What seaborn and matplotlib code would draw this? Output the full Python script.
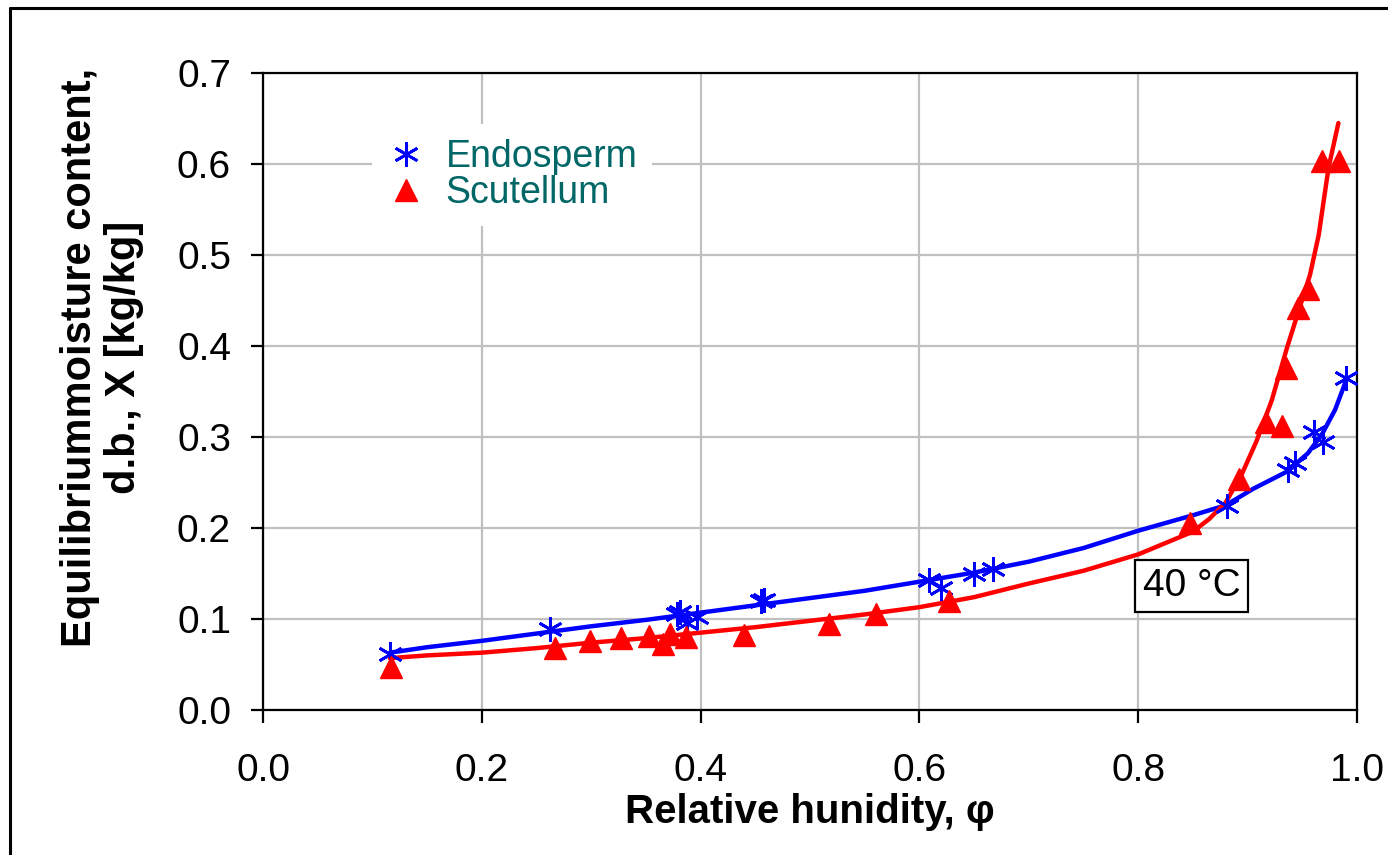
import matplotlib
matplotlib.use('Agg')
import matplotlib.pyplot as plt
from matplotlib.lines import Line2D
import seaborn as sns

sns.set_style('white')
plt.rcParams['font.family'] = ['Liberation Sans', 'DejaVu Sans']
plt.rcParams['text.color'] = 'black'
plt.rcParams['xtick.color'] = 'black'
plt.rcParams['ytick.color'] = 'black'
plt.rcParams['axes.labelcolor'] = 'black'

# measured points, endosperm
endo_rh = [0.116, 0.262, 0.378, 0.381, 0.388, 0.397, 0.455, 0.458, 0.609,
           0.620, 0.650, 0.667, 0.881, 0.937, 0.943, 0.961, 0.969, 0.990]
endo_x = [0.062, 0.089, 0.106, 0.108, 0.096, 0.102, 0.120, 0.121, 0.143,
          0.134, 0.150, 0.155, 0.224, 0.264, 0.271, 0.306, 0.295, 0.365]

# measured points, scutellum
scut_rh = [0.117, 0.267, 0.299, 0.327, 0.353, 0.366, 0.372, 0.387, 0.440,
           0.517, 0.560, 0.627, 0.847, 0.892, 0.917, 0.931, 0.935, 0.946,
           0.955, 0.968, 0.984]
scut_x = [0.047, 0.068, 0.076, 0.079, 0.081, 0.073, 0.084, 0.080, 0.082,
          0.095, 0.106, 0.120, 0.206, 0.254, 0.316, 0.312, 0.376, 0.442,
          0.463, 0.603, 0.603]

# fitted curves
endo_fit_rh = [0.116, 0.15, 0.2, 0.25, 0.3, 0.35, 0.4, 0.45, 0.5, 0.55, 0.6,
               0.65, 0.7, 0.75, 0.8, 0.85, 0.88, 0.905, 0.936, 0.955, 0.968,
               0.98, 0.99]
endo_fit_x = [0.063, 0.069, 0.076, 0.084, 0.092, 0.099, 0.107, 0.115, 0.123,
              0.131, 0.141, 0.151, 0.163, 0.178, 0.197, 0.214, 0.225, 0.243,
              0.262, 0.282, 0.303, 0.330, 0.362]
scut_fit_rh = [0.116, 0.15, 0.2, 0.25, 0.3, 0.35, 0.4, 0.45, 0.5, 0.55, 0.6,
               0.65, 0.7, 0.75, 0.8, 0.85, 0.865, 0.88, 0.895, 0.908, 0.922,
               0.936, 0.947, 0.957, 0.965, 0.974, 0.983]
scut_fit_x = [0.057, 0.060, 0.063, 0.068, 0.074, 0.079, 0.085, 0.091, 0.098,
              0.105, 0.113, 0.124, 0.139, 0.153, 0.171, 0.196, 0.210, 0.228,
              0.260, 0.295, 0.340, 0.398, 0.440, 0.478, 0.522, 0.596, 0.645]

xticks = [0.0, 0.2, 0.4, 0.6, 0.8, 1.0]
yticks = [0.0, 0.1, 0.2, 0.3, 0.4, 0.5, 0.6, 0.7]

fig = plt.figure(figsize=(13.88, 8.55), dpi=100)
ax = fig.add_axes([263/1388, 145/855, 1094/1388, 637/855])

sns.lineplot(x=endo_fit_rh, y=endo_fit_x, sort=False, estimator=None,
             color='blue', lw=3.2, ax=ax, zorder=3)
sns.lineplot(x=scut_fit_rh, y=scut_fit_x, sort=False, estimator=None,
             color='red', lw=3.2, ax=ax, zorder=3)
ax.plot(endo_rh, endo_x, ls='none', marker=(6, 2, 0), ms=18, mew=2.0,
        color='blue', zorder=4)
ax.plot(scut_rh, scut_x, ls='none', marker='^', ms=16, color='red',
        mec='red', zorder=4)

ax.set_xlim(0, 1.0)
ax.set_ylim(0, 0.7)
ax.set_xticks(xticks)
ax.set_yticks(yticks)
ax.set_xticklabels(['%.1f' % t for t in xticks])
ax.set_yticklabels(['%.1f' % t for t in yticks])
ax.grid(True, color='#c0c0c0', lw=1.6)
ax.set_axisbelow(True)
for s in ax.spines.values():
    s.set_visible(True)
    s.set_color('black')
    s.set_linewidth(1.6)
ax.tick_params(axis='both', which='major', labelsize=28, direction='out',
               length=9, width=1.6, color='black', labelcolor='black',
               bottom=True, left=True)
ax.tick_params(axis='y', pad=14)
ax.tick_params(axis='x', pad=22)

ax.set_xlabel('Relative hunidity, φ', fontsize=29, fontweight='bold',
              labelpad=3)
fig.text(102/1388, 1 - 357/855, 'Equilibriummoisture content,\nd.b., X [kg/kg]',
         rotation=90, ha='center', va='center', fontsize=30,
         fontweight='bold', linespacing=1.15, multialignment='center')

handles = [Line2D([], [], ls='none', marker=(6, 2, 0), ms=18, mew=2.0,
                  color='blue'),
           Line2D([], [], ls='none', marker='^', ms=16, color='red')]
leg = ax.legend(handles, ['Endosperm', 'Scutellum'], loc='upper left',
                bbox_to_anchor=(0.10, 0.92), fontsize=27, frameon=True,
                handlelength=1.0, handletextpad=0.55, labelspacing=0.0,
                borderpad=0.4, borderaxespad=0)
leg.get_frame().set_facecolor('white')
leg.get_frame().set_edgecolor('none')
leg.get_frame().set_alpha(1)
for t in leg.get_texts():
    t.set_color('#006666')

ax.text(0.849, 0.136, '40 °C', ha='center', va='center', fontsize=28,
        bbox=dict(boxstyle='square,pad=0.2', facecolor='white',
                  edgecolor='black', lw=1.6), zorder=5)

# outer frame of the original chart area (only top and left edges show)
fig.add_artist(Line2D([10/1388, 1.0], [1 - 8/855, 1 - 8/855],
                      transform=fig.transFigure, color='black', lw=2.2))
fig.add_artist(Line2D([10/1388, 10/1388], [0.0, 1 - 8/855],
                      transform=fig.transFigure, color='black', lw=2.2))

fig.savefig('out.png', dpi=100, facecolor='white')
